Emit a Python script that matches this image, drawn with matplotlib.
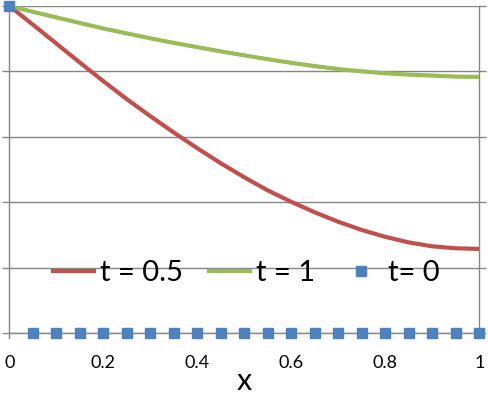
import matplotlib
matplotlib.use("Agg")
import matplotlib.pyplot as plt
import numpy as np

plt.rcParams['font.family'] = ['Lato', 'DejaVu Sans']

# values
x = [0.00, 0.05, 0.10, 0.15, 0.20, 0.25, 0.30, 0.35, 0.40, 0.45, 0.50,
     0.55, 0.60, 0.65, 0.70, 0.75, 0.80, 0.85, 0.90, 0.95, 1.00]
u_half = [1.000, 0.943, 0.885, 0.827, 0.770, 0.715, 0.663, 0.613, 0.565, 0.519, 0.476,
          0.436, 0.401, 0.369, 0.340, 0.315, 0.294, 0.277, 0.265, 0.259, 0.257]
u_one = [1.000, 0.982, 0.965, 0.948, 0.931, 0.916, 0.901, 0.887, 0.874, 0.861, 0.849,
         0.837, 0.826, 0.816, 0.807, 0.800, 0.794, 0.790, 0.787, 0.784, 0.783]
u_zero = [1.0] + [0.0] * 20

xticks = [0, 0.2, 0.4, 0.6, 0.8, 1]
xtick_labels = ["0", "0.2", "0.4", "0.6", "0.8", "1"]
yticks = [0, 0.2, 0.4, 0.6, 0.8, 1.0]

fig = plt.figure(figsize=(4.89, 3.95), dpi=100)
ax = fig.add_axes([0.019, 0.157, 0.961, 0.828])

grid_col = '#868686'
ax.set_xlim(0, 1)
ax.set_ylim(0, 1)
ax.set_yticks(yticks)
ax.set_yticklabels([])
ax.grid(axis='y', color=grid_col, lw=1.0)
ax.set_axisbelow(True)

ax.plot(x, u_half, color='#C0504D', lw=3.0, label='t = 0.5', zorder=3)
ax.plot(x, u_one, color='#9BBB59', lw=3.0, label='t = 1', zorder=3)
ax.plot(x, u_zero, ls='none', marker='s', ms=7.2, color='#4F81BD', label='t= 0',
        zorder=4, clip_on=False)

ax.set_xticks(xticks)
ax.set_xticklabels(xtick_labels)
ax.tick_params(axis='x', length=0, pad=16, labelsize=13)
ax.tick_params(axis='y', direction='out', length=5, color=grid_col, width=1.0)
ax.tick_params(axis='y', which='both', right=True)
ax.spines['top'].set_visible(False)
for side in ['left', 'right', 'bottom']:
    ax.spines[side].set_color(grid_col)
    ax.spines[side].set_linewidth(1.0)
ax.spines['left'].set_bounds(-0.016, 1)

ax.set_xlabel('x', fontsize=22, labelpad=-3)

leg = ax.legend(loc='center', bbox_to_anchor=(0.504, 0.183), ncol=3, frameon=False,
                fontsize=21, handlelength=1.4, handletextpad=0.2, columnspacing=0.9,
                borderpad=0, borderaxespad=0)

fig.savefig('out.png', dpi=100)
